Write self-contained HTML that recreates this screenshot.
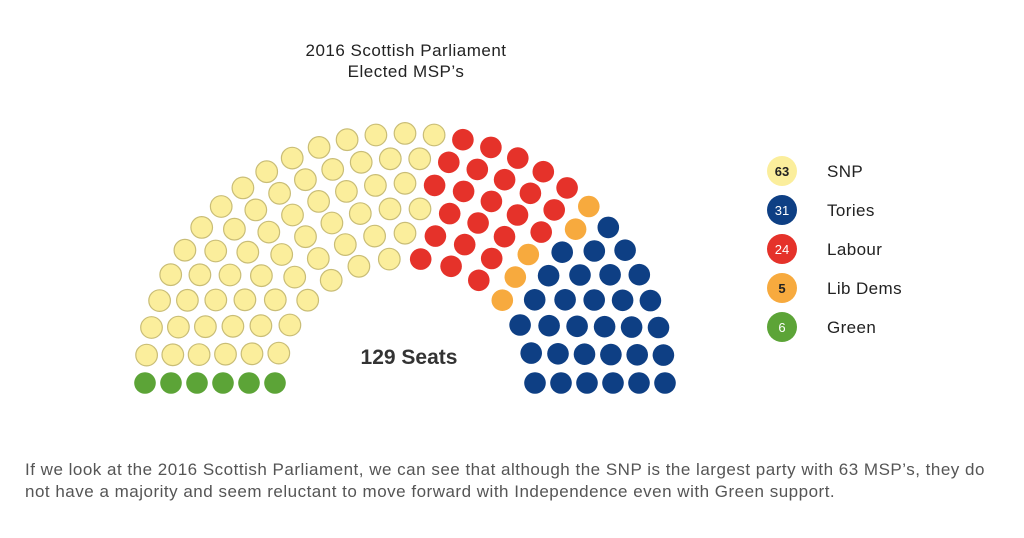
<!DOCTYPE html>
<html><head><meta charset="utf-8"><style>
html,body{margin:0;padding:0;background:#fff;}
svg{display:block;font-family:"Liberation Sans",sans-serif;}
</style></head><body>
<svg id="s" width="1024" height="538" viewBox="0 0 1024 538" xmlns="http://www.w3.org/2000/svg">
<text x="406" y="56" text-anchor="middle" font-size="17" letter-spacing="0.5" fill="#222">2016 Scottish Parliament</text>
<text x="406" y="77" text-anchor="middle" font-size="17" letter-spacing="0.5" fill="#222">Elected MSP’s</text>
<text x="409" y="364" text-anchor="middle" font-size="21" font-weight="bold" fill="#333">129 Seats</text>
<g id="seats"></g>
<g font-size="17" fill="#222" letter-spacing="0.4">
<circle cx="782" cy="171" r="15" fill="#fbee9c"/><text x="782" y="176" text-anchor="middle" font-size="13" font-weight="bold" fill="#222" letter-spacing="0">63</text><text x="827" y="177">SNP</text>
<circle cx="782" cy="210" r="15" fill="#0e3f84"/><text x="782" y="215" text-anchor="middle" font-size="13" fill="#fff" letter-spacing="0">31</text><text x="827" y="216">Tories</text>
<circle cx="782" cy="249" r="15" fill="#e5322a"/><text x="782" y="254" text-anchor="middle" font-size="13" fill="#fff" letter-spacing="0">24</text><text x="827" y="255">Labour</text>
<circle cx="782" cy="288" r="15" fill="#f7aa3e"/><text x="782" y="293" text-anchor="middle" font-size="13" font-weight="bold" fill="#222" letter-spacing="0">5</text><text x="827" y="294">Lib Dems</text>
<circle cx="782" cy="327" r="15" fill="#5ca437"/><text x="782" y="332" text-anchor="middle" font-size="13" fill="#fff" letter-spacing="0">6</text><text x="827" y="333">Green</text>
</g>
<text x="25" y="475" font-size="17" letter-spacing="0.5" fill="#555">If we look at the 2016 Scottish Parliament, we can see that although the SNP is the largest party with 63 MSP’s, they do</text>
<text x="25" y="497" font-size="17" letter-spacing="0.5" fill="#555">not have a majority and seem reluctant to move forward with Independence even with Green support.</text>
</svg>
<script>
(function(){
var cx=405,cy=383,sy=0.96,seats=[];
var ns=[14,17,20,23,26,29];
for(var i=0;i<6;i++){var r=130+26*i,n=ns[i];
for(var k=0;k<n;k++){var a=Math.PI*k/(n-1);
seats.push({a:a,x:cx-r*Math.cos(a),y:cy-r*Math.sin(a)*sy});}}
seats.sort(function(p,q){return p.a-q.a||p.x-q.x;});
var parties=[[6,"#5ca437",""],[63,"#fbee9c","#c9bd76"],[24,"#e5322a",""],[5,"#f7aa3e",""],[31,"#0e3f84",""]];
var g=document.getElementById("seats"),idx=0,h="";
parties.forEach(function(p){for(var j=0;j<p[0];j++){var s=seats[idx++];
h+='<circle cx="'+s.x.toFixed(1)+'" cy="'+s.y.toFixed(1)+'" r="10.8" fill="'+p[1]+'"'+(p[2]?' stroke="'+p[2]+'" stroke-width="1.2"':'')+'/>';}});
g.innerHTML=h;
})();
</script>
</body></html>
